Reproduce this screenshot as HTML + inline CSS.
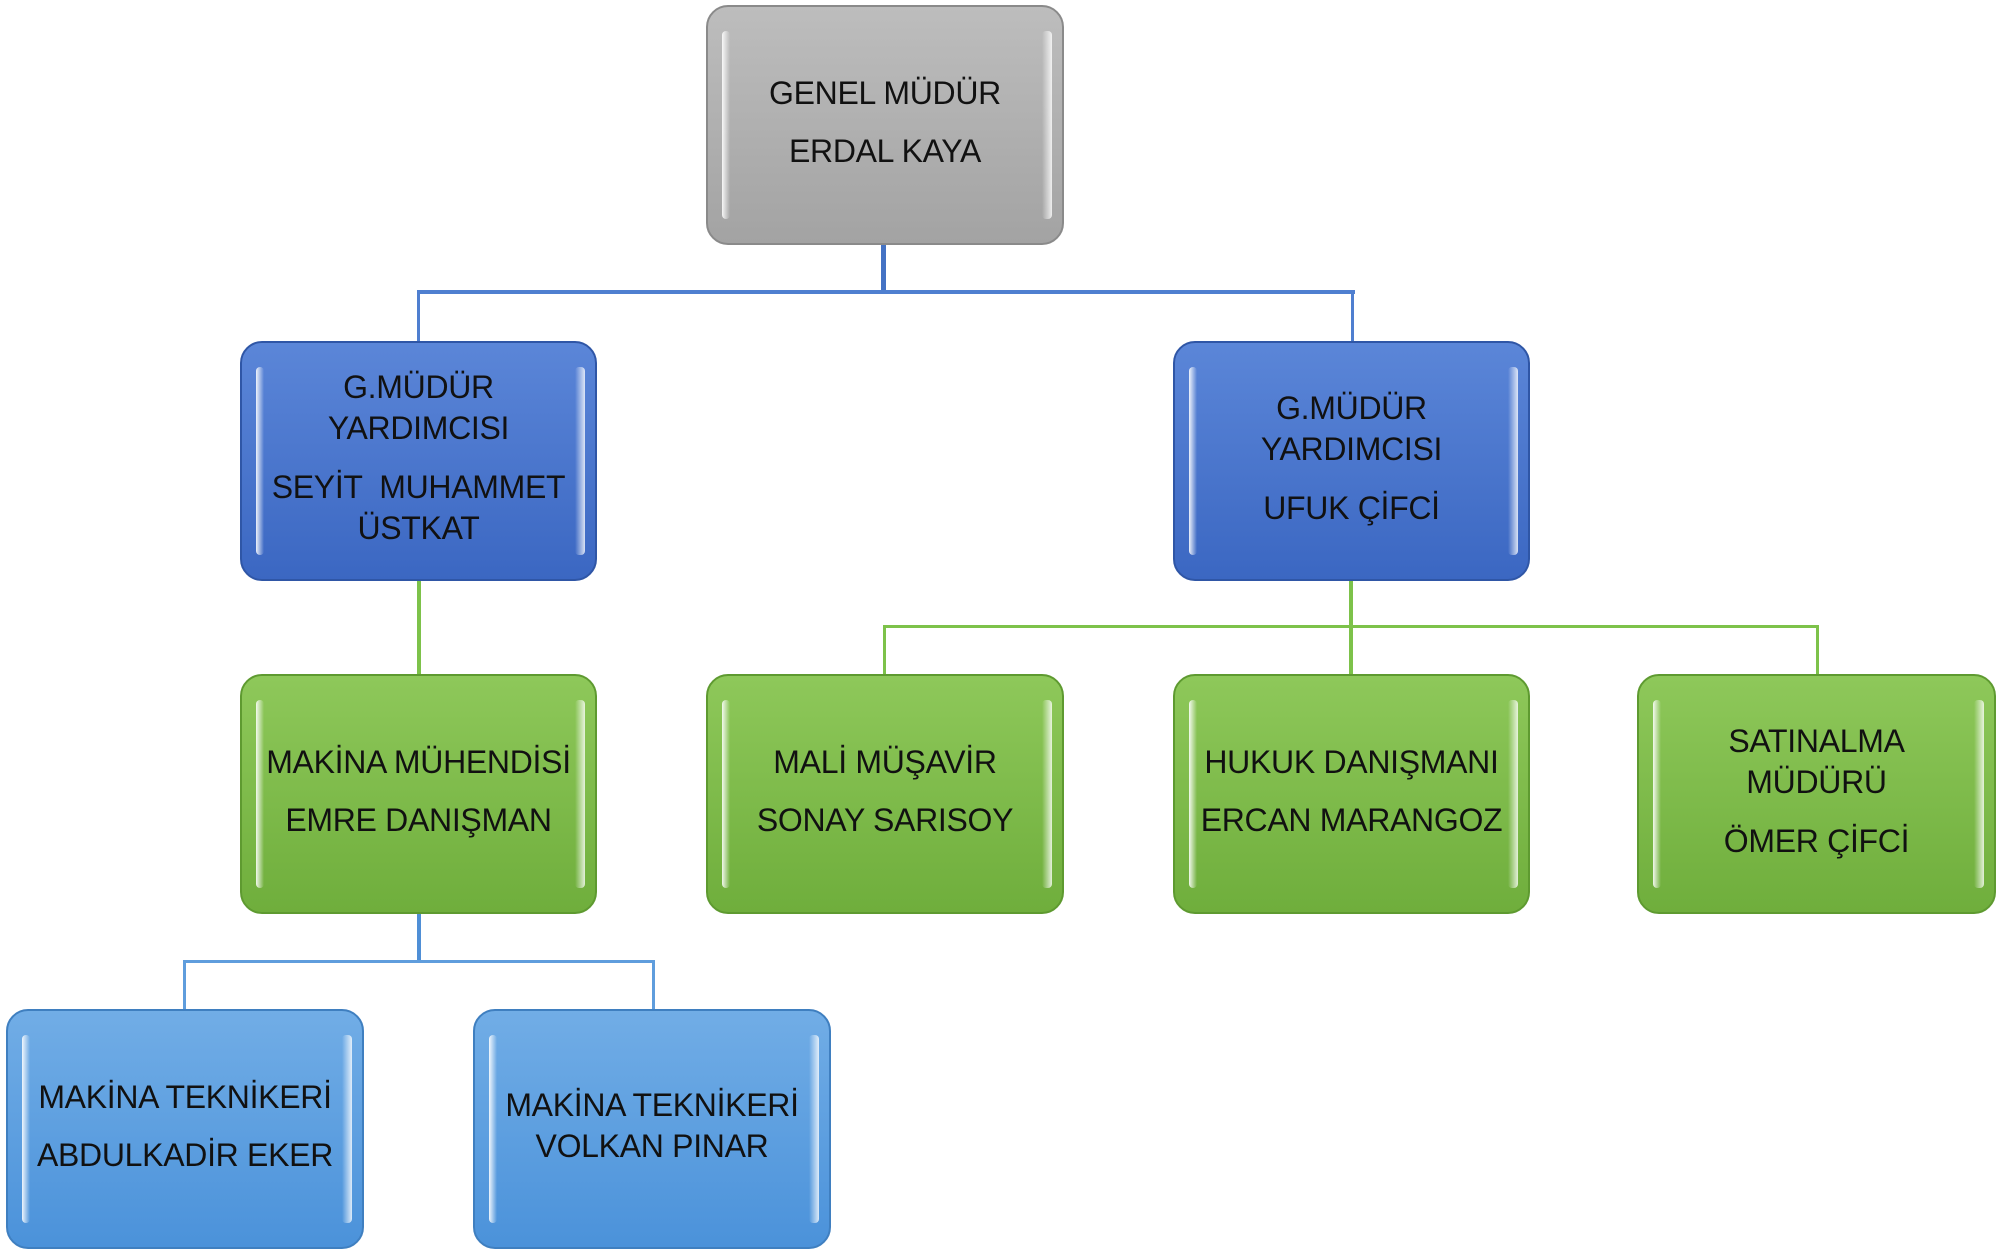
<!DOCTYPE html>
<html><head><meta charset="utf-8"><style>
body{margin:0;width:2001px;height:1255px;background:#fff;position:relative;overflow:hidden;font-family:"Liberation Sans",sans-serif;}
.b{position:absolute;border-radius:22px;box-sizing:border-box;display:flex;flex-direction:column;justify-content:center;align-items:center;text-align:center;color:#111;font-size:32px;line-height:41px;letter-spacing:-0.3px;padding-bottom:6px;white-space:nowrap;}
.b::before{content:"";position:absolute;left:14px;top:24px;bottom:24px;width:8px;background:linear-gradient(90deg,rgba(255,255,255,.9),rgba(255,255,255,0));border-radius:4px;}
.b::after{content:"";position:absolute;right:10px;top:24px;bottom:24px;width:10px;background:linear-gradient(270deg,rgba(255,255,255,.8),rgba(255,255,255,0));border-radius:4px;}
.g{background:linear-gradient(#bdbdbd,#a3a3a3);border:2px solid #8a8a8a;}
.d{background:linear-gradient(#5b86d8,#3b67c2);border:2px solid #2f56a6;}
.gr{background:linear-gradient(#8ec85a,#6fae3c);border:2px solid #5e9a30;}
.l{background:linear-gradient(#71ade6,#4b92da);border:2px solid #3f7fc0;}
.ln{position:absolute;}
.gap{height:18px}
</style></head><body>
<div class="ln" style="left:881px;top:244px;width:5px;height:50px;background:#4472c4"></div>
<div class="ln" style="left:417px;top:290px;width:938px;height:4px;background:#4f7fd0"></div>
<div class="ln" style="left:417px;top:290px;width:3px;height:52px;background:#4f7fd0"></div>
<div class="ln" style="left:1351px;top:290px;width:3px;height:52px;background:#4f7fd0"></div>

<div class="ln" style="left:417px;top:580px;width:4px;height:95px;background:#7dc24a"></div>
<div class="ln" style="left:1349px;top:580px;width:4px;height:95px;background:#7dc24a"></div>
<div class="ln" style="left:883px;top:625px;width:936px;height:3px;background:#7dc24a"></div>
<div class="ln" style="left:883px;top:625px;width:3px;height:50px;background:#7dc24a"></div>
<div class="ln" style="left:1816px;top:625px;width:3px;height:50px;background:#7dc24a"></div>

<div class="ln" style="left:417px;top:913px;width:4px;height:49px;background:#4f8fd6"></div>
<div class="ln" style="left:183px;top:960px;width:472px;height:3px;background:#5f9ddd"></div>
<div class="ln" style="left:183px;top:960px;width:3px;height:50px;background:#5f9ddd"></div>
<div class="ln" style="left:652px;top:960px;width:3px;height:50px;background:#5f9ddd"></div>

<div class="b g" style="left:706px;top:5px;width:358px;height:240px;line-height:58px">GENEL MÜDÜR<br>ERDAL KAYA</div>
<div class="b d" style="left:240px;top:341px;width:357px;height:240px">G.MÜDÜR<br>YARDIMCISI<div class="gap"></div>SEYİT &nbsp;MUHAMMET<br>ÜSTKAT</div>
<div class="b d" style="left:1173px;top:341px;width:357px;height:240px">G.MÜDÜR<br>YARDIMCISI<div class="gap"></div>UFUK ÇİFCİ</div>

<div class="b gr" style="left:240px;top:674px;width:357px;height:240px;line-height:58px">MAKİNA MÜHENDİSİ<br>EMRE DANIŞMAN</div>
<div class="b gr" style="left:706px;top:674px;width:358px;height:240px;line-height:58px">MALİ MÜŞAVİR<br>SONAY SARISOY</div>
<div class="b gr" style="left:1173px;top:674px;width:357px;height:240px;line-height:58px">HUKUK DANIŞMANI<br>ERCAN MARANGOZ</div>
<div class="b gr" style="left:1637px;top:674px;width:359px;height:240px">SATINALMA<br>MÜDÜRÜ<div class="gap"></div>ÖMER ÇİFCİ</div>

<div class="b l" style="left:6px;top:1009px;width:358px;height:240px;line-height:58px">MAKİNA TEKNİKERİ<br>ABDULKADİR EKER</div>
<div class="b l" style="left:473px;top:1009px;width:358px;height:240px">MAKİNA TEKNİKERİ<br>VOLKAN PINAR</div>
</body></html>
